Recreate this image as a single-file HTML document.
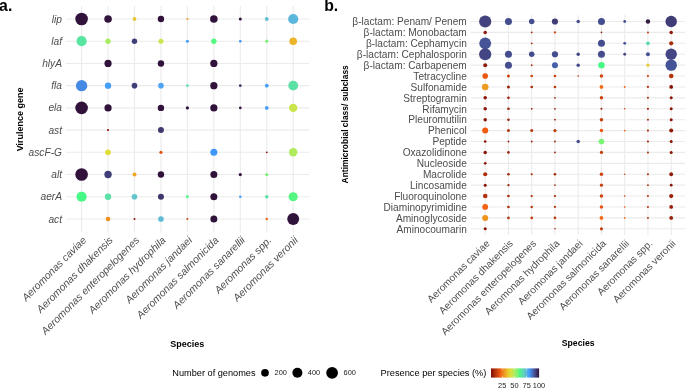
<!DOCTYPE html>
<html><head><meta charset="utf-8"><style>
html,body{margin:0;padding:0;background:#fff;}
body{width:685px;height:388px;overflow:hidden;}
svg{display:block;font-family:"Liberation Sans",sans-serif;will-change:transform;}
</style></head><body>
<svg width="685" height="388" viewBox="0 0 685 388">
<rect width="685" height="388" fill="#fff"/>
<g stroke="#ebebeb" stroke-width="1.1"><line x1="65.9" y1="19" x2="309.1" y2="19"/><line x1="65.9" y1="41.22" x2="309.1" y2="41.22"/><line x1="65.9" y1="63.44" x2="309.1" y2="63.44"/><line x1="65.9" y1="85.66" x2="309.1" y2="85.66"/><line x1="65.9" y1="107.88" x2="309.1" y2="107.88"/><line x1="65.9" y1="130.1" x2="309.1" y2="130.1"/><line x1="65.9" y1="152.32" x2="309.1" y2="152.32"/><line x1="65.9" y1="174.54" x2="309.1" y2="174.54"/><line x1="65.9" y1="196.76" x2="309.1" y2="196.76"/><line x1="65.9" y1="218.98" x2="309.1" y2="218.98"/><line x1="81.6" y1="5.9" x2="81.6" y2="232.4"/><line x1="108.05" y1="5.9" x2="108.05" y2="232.4"/><line x1="134.5" y1="5.9" x2="134.5" y2="232.4"/><line x1="160.95" y1="5.9" x2="160.95" y2="232.4"/><line x1="187.4" y1="5.9" x2="187.4" y2="232.4"/><line x1="213.85" y1="5.9" x2="213.85" y2="232.4"/><line x1="240.3" y1="5.9" x2="240.3" y2="232.4"/><line x1="266.75" y1="5.9" x2="266.75" y2="232.4"/><line x1="293.2" y1="5.9" x2="293.2" y2="232.4"/></g>
<g stroke="#ebebeb" stroke-width="1.1"><line x1="470.8" y1="21.5" x2="685.5" y2="21.5"/><line x1="470.8" y1="32.41" x2="685.5" y2="32.41"/><line x1="470.8" y1="43.32" x2="685.5" y2="43.32"/><line x1="470.8" y1="54.23" x2="685.5" y2="54.23"/><line x1="470.8" y1="65.14" x2="685.5" y2="65.14"/><line x1="470.8" y1="76.05" x2="685.5" y2="76.05"/><line x1="470.8" y1="86.96" x2="685.5" y2="86.96"/><line x1="470.8" y1="97.87" x2="685.5" y2="97.87"/><line x1="470.8" y1="108.78" x2="685.5" y2="108.78"/><line x1="470.8" y1="119.69" x2="685.5" y2="119.69"/><line x1="470.8" y1="130.6" x2="685.5" y2="130.6"/><line x1="470.8" y1="141.51" x2="685.5" y2="141.51"/><line x1="470.8" y1="152.42" x2="685.5" y2="152.42"/><line x1="470.8" y1="163.33" x2="685.5" y2="163.33"/><line x1="470.8" y1="174.24" x2="685.5" y2="174.24"/><line x1="470.8" y1="185.15" x2="685.5" y2="185.15"/><line x1="470.8" y1="196.06" x2="685.5" y2="196.06"/><line x1="470.8" y1="206.97" x2="685.5" y2="206.97"/><line x1="470.8" y1="217.88" x2="685.5" y2="217.88"/><line x1="470.8" y1="228.79" x2="685.5" y2="228.79"/><line x1="485.2" y1="15" x2="485.2" y2="235.1"/><line x1="508.45" y1="15" x2="508.45" y2="235.1"/><line x1="531.7" y1="15" x2="531.7" y2="235.1"/><line x1="554.95" y1="15" x2="554.95" y2="235.1"/><line x1="578.2" y1="15" x2="578.2" y2="235.1"/><line x1="601.45" y1="15" x2="601.45" y2="235.1"/><line x1="624.7" y1="15" x2="624.7" y2="235.1"/><line x1="647.95" y1="15" x2="647.95" y2="235.1"/><line x1="671.2" y1="15" x2="671.2" y2="235.1"/></g>
<circle cx="81.6" cy="19" r="6.3" fill="#30123b"/><circle cx="108.05" cy="19" r="3.8" fill="#30123b"/><circle cx="134.5" cy="19" r="1.9" fill="#e7c62f"/><circle cx="160.95" cy="19" r="3.2" fill="#30123b"/><circle cx="187.4" cy="19" r="1.1" fill="#eda123"/><circle cx="213.85" cy="19" r="3.8" fill="#30123b"/><circle cx="240.3" cy="19" r="1.5" fill="#30123b"/><circle cx="266.75" cy="19" r="1.9" fill="#5ec0d0"/><circle cx="293.2" cy="19" r="5.1" fill="#5bb7dc"/><circle cx="81.6" cy="41.22" r="5.1" fill="#58e59f"/><circle cx="108.05" cy="41.22" r="2.7" fill="#a9ec61"/><circle cx="134.5" cy="41.22" r="2.7" fill="#413f7a"/><circle cx="160.95" cy="41.22" r="2.5" fill="#c7e54d"/><circle cx="187.4" cy="41.22" r="1.5" fill="#46a0f8"/><circle cx="213.85" cy="41.22" r="2.7" fill="#56f781"/><circle cx="240.3" cy="41.22" r="1.3" fill="#4194f3"/><circle cx="266.75" cy="41.22" r="1.6" fill="#7af376"/><circle cx="293.2" cy="41.22" r="3.8" fill="#ebb429"/><circle cx="108.05" cy="63.44" r="3.6" fill="#30123b"/><circle cx="160.95" cy="63.44" r="3.2" fill="#30123b"/><circle cx="213.85" cy="63.44" r="3.6" fill="#30123b"/><circle cx="81.6" cy="85.66" r="5.7" fill="#4489e3"/><circle cx="108.05" cy="85.66" r="3.2" fill="#46a0f8"/><circle cx="134.5" cy="85.66" r="2.8" fill="#413f7a"/><circle cx="160.95" cy="85.66" r="2.8" fill="#4ca4f3"/><circle cx="187.4" cy="85.66" r="1.3" fill="#5ddcac"/><circle cx="213.85" cy="85.66" r="3.6" fill="#30123b"/><circle cx="240.3" cy="85.66" r="1.4" fill="#3f3970"/><circle cx="266.75" cy="85.66" r="1.9" fill="#46a0f8"/><circle cx="293.2" cy="85.66" r="4.9" fill="#5be1a6"/><circle cx="81.6" cy="107.88" r="6.3" fill="#30123b"/><circle cx="108.05" cy="107.88" r="3.6" fill="#30123b"/><circle cx="160.95" cy="107.88" r="3.2" fill="#30123b"/><circle cx="187.4" cy="107.88" r="1.6" fill="#30123b"/><circle cx="213.85" cy="107.88" r="3.6" fill="#30123b"/><circle cx="240.3" cy="107.88" r="1.3" fill="#30123b"/><circle cx="266.75" cy="107.88" r="1.9" fill="#46a0f8"/><circle cx="293.2" cy="107.88" r="4.2" fill="#cae44b"/><circle cx="108.05" cy="130.1" r="1.1" fill="#901a08"/><circle cx="160.95" cy="130.1" r="3" fill="#3f3970"/><circle cx="108.05" cy="152.32" r="2.8" fill="#e1dd37"/><circle cx="160.95" cy="152.32" r="1.6" fill="#e45311"/><circle cx="213.85" cy="152.32" r="3.5" fill="#3f97f9"/><circle cx="266.75" cy="152.32" r="0.9" fill="#8b1507"/><circle cx="293.2" cy="152.32" r="4.2" fill="#b0ea5d"/><circle cx="81.6" cy="174.54" r="6.3" fill="#30123b"/><circle cx="108.05" cy="174.54" r="3.7" fill="#413f7a"/><circle cx="134.5" cy="174.54" r="2" fill="#eda725"/><circle cx="160.95" cy="174.54" r="3.2" fill="#30123b"/><circle cx="213.85" cy="174.54" r="3.5" fill="#30123b"/><circle cx="240.3" cy="174.54" r="1.6" fill="#30123b"/><circle cx="266.75" cy="174.54" r="1.6" fill="#7af376"/><circle cx="81.6" cy="196.76" r="5.1" fill="#46f884"/><circle cx="108.05" cy="196.76" r="3.2" fill="#5be1a6"/><circle cx="134.5" cy="196.76" r="2.8" fill="#5fc5ca"/><circle cx="160.95" cy="196.76" r="3" fill="#3e366c"/><circle cx="187.4" cy="196.76" r="1.4" fill="#46f884"/><circle cx="213.85" cy="196.76" r="3.5" fill="#30123b"/><circle cx="240.3" cy="196.76" r="1.2" fill="#3e9bfe"/><circle cx="266.75" cy="196.76" r="1.8" fill="#5be1a6"/><circle cx="293.2" cy="196.76" r="4.6" fill="#56f781"/><circle cx="108.05" cy="218.98" r="2.3" fill="#ef8e1d"/><circle cx="134.5" cy="218.98" r="1" fill="#8b1507"/><circle cx="160.95" cy="218.98" r="2.8" fill="#5dbbd6"/><circle cx="187.4" cy="218.98" r="1" fill="#d1470f"/><circle cx="213.85" cy="218.98" r="3.5" fill="#30123b"/><circle cx="266.75" cy="218.98" r="1.2" fill="#f06313"/><circle cx="293.2" cy="218.98" r="5.95" fill="#30123b"/><circle cx="485.2" cy="21.5" r="6.1" fill="#42437e"/><circle cx="508.45" cy="21.5" r="3.5" fill="#444d8d"/><circle cx="531.7" cy="21.5" r="2.75" fill="#444d8d"/><circle cx="554.95" cy="21.5" r="3.1" fill="#403c75"/><circle cx="578.2" cy="21.5" r="1.75" fill="#444d8d"/><circle cx="601.45" cy="21.5" r="3.5" fill="#444d8d"/><circle cx="624.7" cy="21.5" r="1.4" fill="#444d8d"/><circle cx="647.95" cy="21.5" r="2.2" fill="#331943"/><circle cx="671.2" cy="21.5" r="5.7" fill="#403c75"/><circle cx="485.2" cy="32.41" r="1.75" fill="#901a08"/><circle cx="531.7" cy="32.41" r="0.9" fill="#a82b0a"/><circle cx="554.95" cy="32.41" r="1.1" fill="#cb430e"/><circle cx="601.45" cy="32.41" r="0.8" fill="#901a08"/><circle cx="647.95" cy="32.41" r="1" fill="#c53f0d"/><circle cx="671.2" cy="32.41" r="1.75" fill="#901a08"/><circle cx="485.2" cy="43.32" r="5.9" fill="#455496"/><circle cx="531.7" cy="43.32" r="0.9" fill="#a82b0a"/><circle cx="601.45" cy="43.32" r="3.5" fill="#444d8d"/><circle cx="624.7" cy="43.32" r="1.4" fill="#444d8d"/><circle cx="647.95" cy="43.32" r="1.9" fill="#5ddcac"/><circle cx="671.2" cy="43.32" r="2.1" fill="#a82b0a"/><circle cx="485.2" cy="54.23" r="6.1" fill="#434683"/><circle cx="508.45" cy="54.23" r="3.5" fill="#444d8d"/><circle cx="531.7" cy="54.23" r="2.75" fill="#444d8d"/><circle cx="554.95" cy="54.23" r="3.1" fill="#444d8d"/><circle cx="578.2" cy="54.23" r="1.75" fill="#434683"/><circle cx="601.45" cy="54.23" r="3.5" fill="#444d8d"/><circle cx="624.7" cy="54.23" r="1.4" fill="#434683"/><circle cx="647.95" cy="54.23" r="2" fill="#455496"/><circle cx="671.2" cy="54.23" r="5.7" fill="#434683"/><circle cx="485.2" cy="65.14" r="2" fill="#901a08"/><circle cx="508.45" cy="65.14" r="3.5" fill="#444d8d"/><circle cx="531.7" cy="65.14" r="0.9" fill="#a82b0a"/><circle cx="554.95" cy="65.14" r="3" fill="#4661aa"/><circle cx="578.2" cy="65.14" r="1.75" fill="#444d8d"/><circle cx="601.45" cy="65.14" r="3.2" fill="#46f884"/><circle cx="647.95" cy="65.14" r="1.6" fill="#e6cb31"/><circle cx="671.2" cy="65.14" r="5.7" fill="#455496"/><circle cx="485.2" cy="76.05" r="2.8" fill="#ea5711"/><circle cx="508.45" cy="76.05" r="1.5" fill="#cb430e"/><circle cx="531.7" cy="76.05" r="1.3" fill="#cb430e"/><circle cx="554.95" cy="76.05" r="1.3" fill="#cb430e"/><circle cx="578.2" cy="76.05" r="0.8" fill="#ad2f0b"/><circle cx="601.45" cy="76.05" r="1.75" fill="#d1470f"/><circle cx="647.95" cy="76.05" r="1.1" fill="#d1470f"/><circle cx="671.2" cy="76.05" r="2.3" fill="#b3330b"/><circle cx="485.2" cy="86.96" r="3.3" fill="#ee9b21"/><circle cx="508.45" cy="86.96" r="1.5" fill="#9c2309"/><circle cx="531.7" cy="86.96" r="1.3" fill="#a82b0a"/><circle cx="554.95" cy="86.96" r="1.3" fill="#b9370c"/><circle cx="601.45" cy="86.96" r="1.9" fill="#f06b15"/><circle cx="624.7" cy="86.96" r="0.9" fill="#f05b12"/><circle cx="647.95" cy="86.96" r="1.1" fill="#b3330b"/><circle cx="671.2" cy="86.96" r="1.9" fill="#851006"/><circle cx="485.2" cy="97.87" r="1.75" fill="#8b1507"/><circle cx="508.45" cy="97.87" r="1.3" fill="#9c2309"/><circle cx="554.95" cy="97.87" r="0.9" fill="#9c2309"/><circle cx="601.45" cy="97.87" r="1.75" fill="#cb430e"/><circle cx="647.95" cy="97.87" r="1" fill="#a82b0a"/><circle cx="671.2" cy="97.87" r="1.5" fill="#8b1507"/><circle cx="485.2" cy="108.78" r="1.75" fill="#8b1507"/><circle cx="508.45" cy="108.78" r="1.3" fill="#9c2309"/><circle cx="531.7" cy="108.78" r="0.9" fill="#9c2309"/><circle cx="554.95" cy="108.78" r="0.9" fill="#9c2309"/><circle cx="601.45" cy="108.78" r="1" fill="#961e08"/><circle cx="624.7" cy="108.78" r="0.8" fill="#cb430e"/><circle cx="647.95" cy="108.78" r="1.1" fill="#a82b0a"/><circle cx="671.2" cy="108.78" r="1.5" fill="#8b1507"/><circle cx="485.2" cy="119.69" r="1.75" fill="#8b1507"/><circle cx="508.45" cy="119.69" r="1.3" fill="#9c2309"/><circle cx="554.95" cy="119.69" r="0.9" fill="#9c2309"/><circle cx="601.45" cy="119.69" r="1.75" fill="#c53f0d"/><circle cx="647.95" cy="119.69" r="1" fill="#a82b0a"/><circle cx="671.2" cy="119.69" r="1.5" fill="#8b1507"/><circle cx="485.2" cy="130.6" r="3" fill="#f05b12"/><circle cx="508.45" cy="130.6" r="1.5" fill="#b3330b"/><circle cx="531.7" cy="130.6" r="1.5" fill="#b9370c"/><circle cx="554.95" cy="130.6" r="1.6" fill="#bf3b0d"/><circle cx="601.45" cy="130.6" r="1.75" fill="#f05b12"/><circle cx="624.7" cy="130.6" r="0.9" fill="#f06313"/><circle cx="647.95" cy="130.6" r="1.1" fill="#b3330b"/><circle cx="671.2" cy="130.6" r="2" fill="#901a08"/><circle cx="485.2" cy="141.51" r="1.3" fill="#8b1507"/><circle cx="508.45" cy="141.51" r="0.9" fill="#9c2309"/><circle cx="531.7" cy="141.51" r="0.9" fill="#9c2309"/><circle cx="554.95" cy="141.51" r="0.9" fill="#9c2309"/><circle cx="578.2" cy="141.51" r="1.75" fill="#444d8d"/><circle cx="601.45" cy="141.51" r="2.8" fill="#7af376"/><circle cx="647.95" cy="141.51" r="1.1" fill="#a82b0a"/><circle cx="671.2" cy="141.51" r="1.5" fill="#8b1507"/><circle cx="485.2" cy="152.42" r="1.75" fill="#8b1507"/><circle cx="508.45" cy="152.42" r="1.3" fill="#9c2309"/><circle cx="554.95" cy="152.42" r="0.9" fill="#9c2309"/><circle cx="601.45" cy="152.42" r="1.6" fill="#c53f0d"/><circle cx="647.95" cy="152.42" r="1" fill="#a82b0a"/><circle cx="671.2" cy="152.42" r="1.5" fill="#8b1507"/><circle cx="485.2" cy="163.33" r="1.3" fill="#8b1507"/><circle cx="485.2" cy="174.24" r="2.1" fill="#ad2f0b"/><circle cx="508.45" cy="174.24" r="1.3" fill="#a82b0a"/><circle cx="531.7" cy="174.24" r="1.1" fill="#a82b0a"/><circle cx="554.95" cy="174.24" r="1.3" fill="#a82b0a"/><circle cx="601.45" cy="174.24" r="1.75" fill="#cb430e"/><circle cx="624.7" cy="174.24" r="0.8" fill="#cb430e"/><circle cx="647.95" cy="174.24" r="1.1" fill="#b3330b"/><circle cx="671.2" cy="174.24" r="1.9" fill="#901a08"/><circle cx="485.2" cy="185.15" r="1.5" fill="#8b1507"/><circle cx="508.45" cy="185.15" r="1.1" fill="#9c2309"/><circle cx="554.95" cy="185.15" r="0.8" fill="#9c2309"/><circle cx="601.45" cy="185.15" r="1.6" fill="#c53f0d"/><circle cx="647.95" cy="185.15" r="0.9" fill="#a82b0a"/><circle cx="671.2" cy="185.15" r="1.4" fill="#8b1507"/><circle cx="485.2" cy="196.06" r="2.3" fill="#b3330b"/><circle cx="508.45" cy="196.06" r="1.3" fill="#a82b0a"/><circle cx="531.7" cy="196.06" r="1.1" fill="#a82b0a"/><circle cx="554.95" cy="196.06" r="1.1" fill="#a82b0a"/><circle cx="601.45" cy="196.06" r="1.75" fill="#cb430e"/><circle cx="624.7" cy="196.06" r="0.8" fill="#cb430e"/><circle cx="647.95" cy="196.06" r="1" fill="#b3330b"/><circle cx="671.2" cy="196.06" r="2.1" fill="#9c2309"/><circle cx="485.2" cy="206.97" r="2.9" fill="#f06313"/><circle cx="508.45" cy="206.97" r="1.3" fill="#ad2f0b"/><circle cx="531.7" cy="206.97" r="1.2" fill="#b3330b"/><circle cx="554.95" cy="206.97" r="1.1" fill="#b3330b"/><circle cx="601.45" cy="206.97" r="1.75" fill="#e45311"/><circle cx="624.7" cy="206.97" r="0.8" fill="#e45311"/><circle cx="647.95" cy="206.97" r="1" fill="#b3330b"/><circle cx="671.2" cy="206.97" r="1.9" fill="#961e08"/><circle cx="485.2" cy="217.88" r="3" fill="#ef941f"/><circle cx="508.45" cy="217.88" r="1.3" fill="#b3330b"/><circle cx="531.7" cy="217.88" r="1.3" fill="#bf3b0d"/><circle cx="554.95" cy="217.88" r="1.3" fill="#bf3b0d"/><circle cx="601.45" cy="217.88" r="1.9" fill="#f06b15"/><circle cx="624.7" cy="217.88" r="0.9" fill="#f06b15"/><circle cx="647.95" cy="217.88" r="1" fill="#bf3b0d"/><circle cx="671.2" cy="217.88" r="1.9" fill="#961e08"/><circle cx="485.2" cy="228.79" r="1.5" fill="#8b1507"/><circle cx="554.95" cy="228.79" r="0.8" fill="#9c2309"/><circle cx="601.45" cy="228.79" r="1.6" fill="#c53f0d"/>
<g fill="#4d4d4d" text-anchor="end"><text x="62.0" y="22.6" font-size="10.2" font-style="italic">lip</text><text x="62.0" y="44.82" font-size="10.2" font-style="italic">laf</text><text x="62.0" y="67.04" font-size="10.2" font-style="italic">hlyA</text><text x="62.0" y="89.26" font-size="10.2" font-style="italic">fla</text><text x="62.0" y="111.48" font-size="10.2" font-style="italic">ela</text><text x="62.0" y="133.7" font-size="10.2" font-style="italic">ast</text><text x="62.0" y="155.92" font-size="10.2" font-style="italic">ascF-G</text><text x="62.0" y="178.14" font-size="10.2" font-style="italic">alt</text><text x="62.0" y="200.36" font-size="10.2" font-style="italic">aerA</text><text x="62.0" y="222.58" font-size="10.2" font-style="italic">act</text><text x="466.8" y="25.3" font-size="10.15">β-lactam: Penam/ Penem</text><text x="466.8" y="36.21" font-size="10.15">β-lactam: Monobactam</text><text x="466.8" y="47.12" font-size="10.15">β-lactam: Cephamycin</text><text x="466.8" y="58.03" font-size="10.15">β-lactam: Cephalosporin</text><text x="466.8" y="68.94" font-size="10.15">β-lactam: Carbapenem</text><text x="466.8" y="79.85" font-size="10.15">Tetracycline</text><text x="466.8" y="90.76" font-size="10.15">Sulfonamide</text><text x="466.8" y="101.67" font-size="10.15">Streptogramin</text><text x="466.8" y="112.58" font-size="10.15">Rifamycin</text><text x="466.8" y="123.49" font-size="10.15">Pleuromutilin</text><text x="466.8" y="134.4" font-size="10.15">Phenicol</text><text x="466.8" y="145.31" font-size="10.15">Peptide</text><text x="466.8" y="156.22" font-size="10.15">Oxazolidinone</text><text x="466.8" y="167.13" font-size="10.15">Nucleoside</text><text x="466.8" y="178.04" font-size="10.15">Macrolide</text><text x="466.8" y="188.95" font-size="10.15">Lincosamide</text><text x="466.8" y="199.86" font-size="10.15">Fluoroquinolone</text><text x="466.8" y="210.77" font-size="10.15">Diaminopyrimidine</text><text x="466.8" y="221.68" font-size="10.15">Aminoglycoside</text><text x="466.8" y="232.59" font-size="10.15">Aminocoumarin</text></g>
<g fill="#4d4d4d" font-size="10.4" font-style="italic" text-anchor="end"><text transform="translate(87,240.8) rotate(-45)">Aeromonas caviae</text><text transform="translate(113.45,240.8) rotate(-45)">Aeromonas dhakensis</text><text transform="translate(139.9,240.8) rotate(-45)">Aeromonas enteropelogenes</text><text transform="translate(166.35,240.8) rotate(-45)">Aeromonas hydrophila</text><text transform="translate(192.8,240.8) rotate(-45)">Aeromonas jandaei</text><text transform="translate(219.25,240.8) rotate(-45)">Aeromonas salmonicida</text><text transform="translate(245.7,240.8) rotate(-45)">Aeromonas sanarellii</text><text transform="translate(272.15,240.8) rotate(-45)">Aeromonas spp.</text><text transform="translate(298.6,240.8) rotate(-45)">Aeromonas veronii</text></g>
<g fill="#4d4d4d" font-size="10.1" text-anchor="end"><text transform="translate(490.4,244.1) rotate(-45)">Aeromonas caviae</text><text transform="translate(513.65,244.1) rotate(-45)">Aeromonas dhakensis</text><text transform="translate(536.9,244.1) rotate(-45)">Aeromonas enteropelogenes</text><text transform="translate(560.15,244.1) rotate(-45)">Aeromonas hydrophila</text><text transform="translate(583.4,244.1) rotate(-45)">Aeromonas jandaei</text><text transform="translate(606.65,244.1) rotate(-45)">Aeromonas salmonicida</text><text transform="translate(629.9,244.1) rotate(-45)">Aeromonas sanarellii</text><text transform="translate(653.15,244.1) rotate(-45)">Aeromonas spp.</text><text transform="translate(676.4,244.1) rotate(-45)">Aeromonas veronii</text></g>
<g fill="#000"><text x="187.3" y="346.6" text-anchor="middle" font-size="9" font-weight="bold">Species</text><text x="578.2" y="346.4" text-anchor="middle" font-size="8.7" font-weight="bold">Species</text><text transform="translate(23.3,119.4) rotate(-90)" text-anchor="middle" font-size="9" font-weight="bold">Virulence gene</text><text transform="translate(347.8,124.3) rotate(-90)" text-anchor="middle" font-size="8.45" font-weight="bold">Antimicrobial class/ subclass</text><text x="-0.9" y="10.8" font-size="15.8" font-weight="bold">a.</text><text x="324.2" y="10.8" font-size="15.8" font-weight="bold">b.</text></g>
<text x="172.3" y="376.2" font-size="9.2">Number of genomes</text><circle cx="265" cy="372.8" r="3.85" fill="#000"/><text x="274.6" y="375.2" font-size="7.4" fill="#1a1a1a">200</text><circle cx="297.4" cy="372.8" r="5.0" fill="#000"/><text x="307.8" y="375.2" font-size="7.4" fill="#1a1a1a">400</text><circle cx="332.1" cy="372.8" r="5.9" fill="#000"/><text x="343.6" y="375.2" font-size="7.4" fill="#1a1a1a">600</text><text x="380.5" y="376.2" font-size="9.25">Presence per species (%)</text><defs><linearGradient id="cb"><stop offset="0.000" stop-color="#810c05"/><stop offset="0.025" stop-color="#8f1907"/><stop offset="0.050" stop-color="#9d2409"/><stop offset="0.075" stop-color="#ac2e0b"/><stop offset="0.100" stop-color="#ba380c"/><stop offset="0.125" stop-color="#c9420e"/><stop offset="0.150" stop-color="#d84b0f"/><stop offset="0.175" stop-color="#e75511"/><stop offset="0.200" stop-color="#f06313"/><stop offset="0.225" stop-color="#f07617"/><stop offset="0.250" stop-color="#f0871c"/><stop offset="0.275" stop-color="#ee9720"/><stop offset="0.300" stop-color="#eda725"/><stop offset="0.325" stop-color="#ebb629"/><stop offset="0.350" stop-color="#e8c52e"/><stop offset="0.375" stop-color="#e4d333"/><stop offset="0.400" stop-color="#ddde3b"/><stop offset="0.425" stop-color="#d1e246"/><stop offset="0.450" stop-color="#c3e650"/><stop offset="0.475" stop-color="#b5e95a"/><stop offset="0.500" stop-color="#a5ec63"/><stop offset="0.525" stop-color="#93f06c"/><stop offset="0.550" stop-color="#7ef375"/><stop offset="0.575" stop-color="#63f67d"/><stop offset="0.600" stop-color="#49f688"/><stop offset="0.625" stop-color="#55ea99"/><stop offset="0.650" stop-color="#5cdea9"/><stop offset="0.675" stop-color="#5fd3b8"/><stop offset="0.700" stop-color="#60c7c7"/><stop offset="0.725" stop-color="#5dbcd5"/><stop offset="0.750" stop-color="#57b1e4"/><stop offset="0.775" stop-color="#4da5f2"/><stop offset="0.800" stop-color="#3f99fb"/><stop offset="0.825" stop-color="#4487e1"/><stop offset="0.850" stop-color="#4675c7"/><stop offset="0.875" stop-color="#4764ae"/><stop offset="0.900" stop-color="#455395"/><stop offset="0.925" stop-color="#42427d"/><stop offset="0.950" stop-color="#3d3266"/><stop offset="0.975" stop-color="#372250"/><stop offset="1.000" stop-color="#30123b"/></linearGradient></defs><rect x="491" y="368.4" width="48.1" height="9.2" fill="url(#cb)"/><line x1="502.4" y1="368.4" x2="502.4" y2="370.2" stroke="#fff" stroke-width="0.5"/><line x1="502.4" y1="375.8" x2="502.4" y2="377.6" stroke="#fff" stroke-width="0.5"/><line x1="514.4" y1="368.4" x2="514.4" y2="370.2" stroke="#fff" stroke-width="0.5"/><line x1="514.4" y1="375.8" x2="514.4" y2="377.6" stroke="#fff" stroke-width="0.5"/><line x1="526.5" y1="368.4" x2="526.5" y2="370.2" stroke="#fff" stroke-width="0.5"/><line x1="526.5" y1="375.8" x2="526.5" y2="377.6" stroke="#fff" stroke-width="0.5"/><text x="502.2" y="387.9" font-size="7.4" text-anchor="middle" fill="#1a1a1a">25</text><text x="514.4" y="387.9" font-size="7.4" text-anchor="middle" fill="#1a1a1a">50</text><text x="526.7" y="387.9" font-size="7.4" text-anchor="middle" fill="#1a1a1a">75</text><text x="539" y="387.9" font-size="7.4" text-anchor="middle" fill="#1a1a1a">100</text>
</svg>
</body></html>
